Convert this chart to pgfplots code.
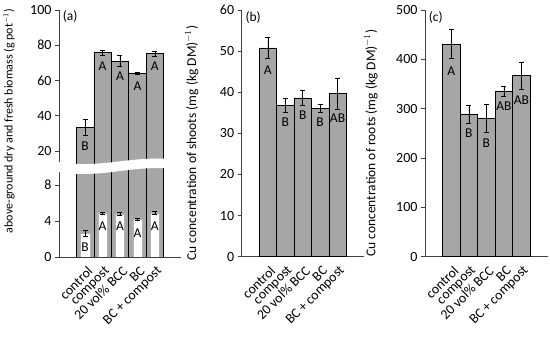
\documentclass[border=0pt]{standalone}
\usepackage{pgfplots}
\pgfplotsset{compat=1.18}
\usepackage{fontspec}
\setmainfont{Carlito}
\definecolor{barfill}{HTML}{A6A6A6}
\definecolor{axgray}{HTML}{404040}
\pgfplotsset{
 base/.style={
  scale only axis, width=122pt,
  axis x line*=bottom, axis y line*=left,
  xmin=-1.5, xmax=5.5,
  xtick={0,1,2,3,4}, xtick style={draw=none},
  ytick style={axgray, line width=0.6pt},
  tick align=outside, major tick length=4pt,
  axis line style={axgray, line width=0.8pt, -},
  tick label style={font=\fontsize{14}{16}\selectfont},
  /pgf/number format/assume math mode=true,
  xticklabels={control, compost, 20 vol\% BCC, BC, BC + compost},
  x tick label style={rotate=45, anchor=east, font=\fontsize{13.8}{15}\selectfont, xshift=1.5pt, yshift=-9pt},
  every axis y label/.style={rotate=90, anchor=center, font=\fontsize{13.5}{15}\selectfont},
  clip=true,
 },
 gbar/.style={ybar, bar shift=0pt, bar width=1, fill=barfill, draw=black, line width=0.6pt,
  error bars/.cd, y dir=both, y explicit,
  error bar style={black, line width=0.6pt},
  error mark options={rotate=90, mark size=2.5pt, black, line width=0.6pt}},
 wbar/.style={ybar, bar shift=0pt, bar width=0.53, fill=white, draw=gray!60, line width=0.5pt,
  error bars/.cd, y dir=both, y explicit,
  error bar style={black, line width=0.6pt},
  error mark options={rotate=90, mark size=2.5pt, black, line width=0.6pt}},
}
\tikzset{lett/.style={font=\fontsize{13.5}{15}\selectfont, inner sep=0pt}}
\begin{document}
\begin{tikzpicture}
\useasboundingbox (0pt,0pt) rectangle (550pt,337pt);
% ---------- panel (a) bottom part ----------
\begin{axis}[base, at={(59pt,80pt)}, anchor=south west, height=97pt,
  ymin=0, ymax=10.78, ytick={0,4,8}]
\addplot[gbar] coordinates {(0,33.5) +- (0,4.5) (1,75.8) +- (0,1.5) (2,71.0) +- (0,3.0) (3,64.0) +- (0,0.8) (4,75.2) +- (0,1.5)};
\addplot[wbar] coordinates {(0,2.6) +- (0,0.35) (1,4.9) +- (0,0.1) (2,4.78) +- (0,0.2) (3,4.19) +- (0,0.12) (4,4.9) +- (0,0.15)};
\node[lett] at (axis cs:0,1.1) {B};
\node[lett] at (axis cs:1,3.4) {A};
\node[lett] at (axis cs:2,3.4) {A};
\node[lett] at (axis cs:3,2.7) {A};
\node[lett] at (axis cs:4,3.4) {A};
\end{axis}
% ---------- panel (a) top part ----------
\begin{axis}[base, at={(59pt,165pt)}, anchor=south west, height=162pt,
  ymin=8, ymax=100, ytick={20,40,60,80,100}, axis x line=none, xticklabels={},
  ylabel={above-ground dry and fresh biomass (g pot$^{-1}$)},
  ylabel style={at={(axis description cs:-0.41,0.315)}, font=\fontsize{12}{14}\selectfont}]
\addplot[gbar] coordinates {(0,33.5) +- (0,4.5) (1,75.8) +- (0,1.5) (2,71.0) +- (0,3.0) (3,64.0) +- (0,0.8) (4,75.2) +- (0,1.5)};
\node[lett] at (axis cs:0,22.8) {B};
\node[lett] at (axis cs:1,68.3) {A};
\node[lett] at (axis cs:2,62.4) {A};
\node[lett] at (axis cs:3,56.8) {A};
\node[lett] at (axis cs:4,68.3) {A};
\node[lett, anchor=north west] at (axis description cs:0.03,0.995) {(a)};
\end{axis}
% break band
\fill[white] (52pt,176pt) .. controls (100pt,167pt) and (125pt,181pt) .. (170pt,178pt)
  -- (170pt,168.5pt) .. controls (125pt,171.5pt) and (100pt,157pt) .. (52pt,166pt) -- cycle;
% ---------- panel (b) ----------
\begin{axis}[base, at={(241.7pt,80.3pt)}, anchor=south west, height=246.7pt,
  ymin=0, ymax=60, ytick={0,10,...,60},
  ylabel={Cu concentration of shoots (mg (kg DM)$^{-1}$)},
  ylabel style={at={(axis description cs:-0.41,0.46)}}]
\addplot[gbar] coordinates {(0,50.8) +- (0,2.5) (1,36.8) +- (0,1.8) (2,38.6) +- (0,1.8) (3,36.1) +- (0,1.0) (4,39.7) +- (0,3.8)};
\node[lett] at (axis cs:0,45.4) {A};
\node[lett] at (axis cs:1,32.6) {B};
\node[lett] at (axis cs:2,34.3) {B};
\node[lett] at (axis cs:3,32.6) {B};
\node[lett] at (axis cs:4,33.7) {AB};
\node[lett, anchor=north west] at (axis description cs:0.03,0.995) {(b)};
\end{axis}
% ---------- panel (c) ----------
\begin{axis}[base, at={(425pt,80.3pt)}, anchor=south west, width=122.7pt, height=246.7pt,
  ymin=0, ymax=500, ytick={0,100,...,500},
  ylabel={Cu concentration of roots (mg (kg DM)$^{-1}$)},
  ylabel style={at={(axis description cs:-0.44,0.46)}}]
\addplot[gbar] coordinates {(0,431) +- (0,29) (1,288) +- (0,18) (2,280) +- (0,28) (3,336) +- (0,10) (4,367) +- (0,28)};
\node[lett] at (axis cs:0,376) {A};
\node[lett] at (axis cs:1,250) {B};
\node[lett] at (axis cs:2,230) {B};
\node[lett] at (axis cs:3,305) {AB};
\node[lett] at (axis cs:4,317) {AB};
\node[lett, anchor=north west] at (axis description cs:0.03,0.995) {(c)};
\end{axis}
\end{tikzpicture}
\end{document}
